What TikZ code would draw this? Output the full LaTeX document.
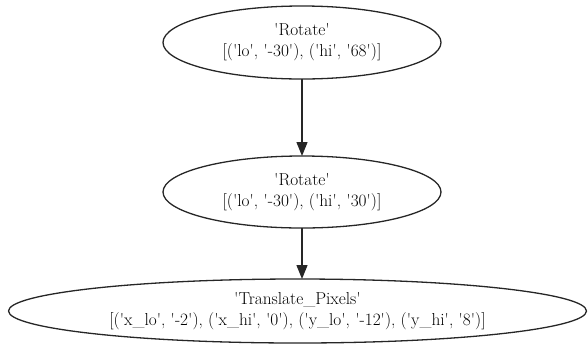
\documentclass[tikz,border=0pt]{standalone}
\usepackage{fontspec}
\setmainfont[Ligatures=TeXOff]{Latin Modern Roman}
\usetikzlibrary{arrows.meta,shapes.geometric}
\begin{document}
\begin{tikzpicture}[x=1pt,y=-1pt,
  ell/.style={draw=black!85, line width=1.3pt, ellipse, inner sep=0pt, outer sep=0pt,
    align=center, font=\rmfamily\fontsize{17.3}{21}\selectfont},
  arr/.style={draw=black!85, line width=1.3pt, -{Triangle[length=14pt,width=11pt]}}]
\useasboundingbox (0,0) rectangle (588,346);
\node[ell, minimum width=278pt, minimum height=73pt] (r1) at (302,42.5)
  {'Rotate'\\\relax[('lo', '-30'), ('hi', '68')]};
\node[ell, minimum width=278pt, minimum height=72pt] (r2) at (302,192)
  {'Rotate'\\\relax[('lo', '-30'), ('hi', '30')]};
\node[ell, minimum width=578pt, minimum height=64pt] (r3) at (297.5,311)
  {'Translate\_Pixels'\\\relax[('x\_lo', '-2'), ('x\_hi', '0'), ('y\_lo', '-12'), ('y\_hi', '8')]};
\draw[arr] (r1) -- (r2);
\draw[arr] (r2.south) -- (r2.south |- r3.north);
\end{tikzpicture}
\end{document}
